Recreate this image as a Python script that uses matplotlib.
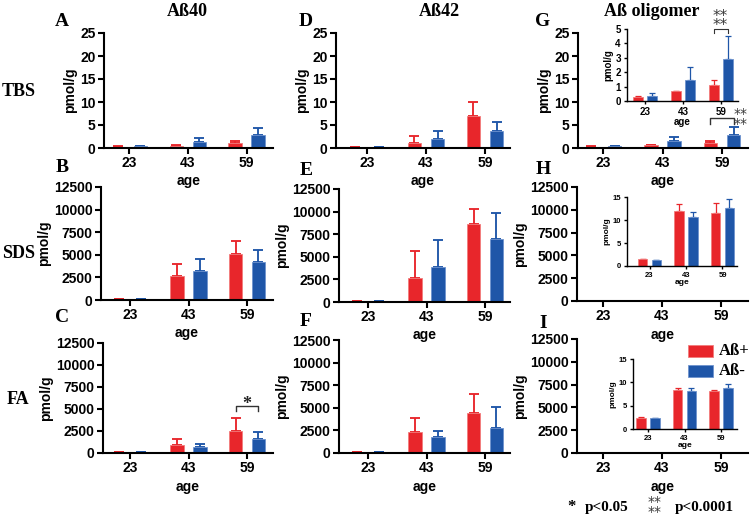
import matplotlib
matplotlib.use("Agg")
import matplotlib.pyplot as plt
import numpy as np

W, H = 750, 517
ages = ["23", "43", "59"]

# Row 1: TBS (pmol/g)
a40_tbs_pos = [0.3, 0.5, 1.0];   a40_tbs_pos_err = [0.05, 0.05, 0.5]
a40_tbs_neg = [0.35, 1.4, 2.8];  a40_tbs_neg_err = [0.1, 0.8, 1.6]
a42_tbs_pos = [0.25, 1.1, 7.0];  a42_tbs_pos_err = [0.05, 1.6, 2.9]
a42_tbs_neg = [0.25, 1.85, 3.8]; a42_tbs_neg_err = [0.05, 1.95, 1.9]
olig_tbs_pos = [0.3, 0.67, 1.09]; olig_tbs_pos_err = [0.05, 0.02, 0.38]
olig_tbs_neg = [0.35, 1.49, 2.9]; olig_tbs_neg_err = [0.18, 0.84, 1.59]
# Row 2: SDS
a40_sds_pos = [100, 2600, 5100];  a40_sds_pos_err = [0, 1400, 1420]
a40_sds_neg = [150, 3250, 4250];  a40_sds_neg_err = [0, 1300, 1300]
a42_sds_pos = [150, 2690, 8600];  a42_sds_pos_err = [0, 2980, 1650]
a42_sds_neg = [150, 3840, 7000];  a42_sds_neg_err = [0, 3020, 2800]
olig_sds_pos = [1.44, 11.97, 11.6]; olig_sds_pos_err = [0.05, 1.4, 2.1]
olig_sds_neg = [1.35, 10.7, 12.7];  olig_sds_neg_err = [0.05, 1.0, 1.95]
# Row 3: FA
a40_fa_pos = [80, 910, 2550];   a40_fa_pos_err = [0, 680, 1460]
a40_fa_neg = [80, 650, 1620];   a40_fa_neg_err = [0, 340, 780]
a42_fa_pos = [150, 2290, 4390]; a42_fa_pos_err = [0, 1550, 2100]
a42_fa_neg = [150, 1740, 2800]; a42_fa_neg_err = [0, 730, 2250]
olig_fa_pos = [2.46, 8.26, 8.04]; olig_fa_pos_err = [0.05, 0.58, 0.36]
olig_fa_neg = [2.3, 8.2, 8.77];   olig_fa_neg_err = [0.05, 0.57, 0.93]

RED = "#E8262B"
BLUE = "#1F56A8"
RED_E = "#F27C7C"
BLUE_E = "#6E93CE"
STAR = "#3a3a3a"

SANS = "Liberation Sans"
SERIF = "Liberation Serif"

fig = plt.figure(figsize=(W / 100, H / 100), dpi=100)


def add_ax(l, r, t, b, x0, s):
    ax = fig.add_axes([l / W, 1 - b / H, (r - l) / W, (b - t) / H])
    ax.set_xlim((l - x0) / s, (r - x0) / s)
    return ax


def draw(ax, pos, pos_err, neg, neg_err, ymax, step, small=False, lw=1.5,
         tfs=10, lfs=10, xlabel=True, width=0.23, off=0.195, cap=3.5):
    x = np.arange(len(ages))
    for vals, errs, c, ec, o in [(pos, pos_err, RED, RED_E, -off),
                                 (neg, neg_err, BLUE, BLUE_E, off)]:
        ax.bar(x + o, vals, width=width, color=c, edgecolor=ec, linewidth=0.6, zorder=2)
        ax.errorbar(x + o, vals, yerr=[np.zeros(len(vals)), errs], fmt="none",
                    ecolor=c, elinewidth=lw * 0.9, capsize=cap, capthick=lw * 0.9, zorder=1)
    ax.set_ylim(0, ymax)
    ax.set_yticks(np.arange(0, ymax + step / 2, step))
    ax.set_xticks(x)
    ax.set_xticklabels(ages)
    for sp in ["top", "right"]:
        ax.spines[sp].set_visible(False)
    for sp in ["left", "bottom"]:
        ax.spines[sp].set_linewidth(lw)
    ax.tick_params(width=lw, length=4 if not small else 2.5, labelsize=tfs, pad=2)
    for lab in ax.get_xticklabels() + ax.get_yticklabels():
        lab.set_fontfamily(SANS)
        lab.set_fontweight("bold")
    ax.set_ylabel("pmol/g", fontfamily=SANS, fontweight="bold", fontsize=lfs, labelpad=2)
    if xlabel:
        ax.set_xlabel("age", fontfamily=SANS, fontweight="bold", fontsize=lfs, labelpad=3)
    ax.patch.set_alpha(0)


# Row 1
axA = add_ax(104, 273, 33, 148, 129, 58.8)
draw(axA, a40_tbs_pos, a40_tbs_pos_err, a40_tbs_neg, a40_tbs_neg_err, 25, 5)
axD = add_ax(336, 510, 33, 148, 367, 59)
draw(axD, a42_tbs_pos, a42_tbs_pos_err, a42_tbs_neg, a42_tbs_neg_err, 25, 5)
axG = add_ax(578, 748, 33, 148, 603, 59.5)
draw(axG, olig_tbs_pos, olig_tbs_pos_err, olig_tbs_neg, olig_tbs_neg_err, 25, 5)
# Row 2
axB = add_ax(101, 273, 187, 300, 130, 58.5)
draw(axB, a40_sds_pos, a40_sds_pos_err, a40_sds_neg, a40_sds_neg_err, 12500, 2500)
axE = add_ax(339, 510, 189, 302, 368, 58.5)
draw(axE, a42_sds_pos, a42_sds_pos_err, a42_sds_neg, a42_sds_neg_err, 12500, 2500)
axH = add_ax(577, 748, 187, 301, 603, 59)
draw(axH, olig_sds_pos, olig_sds_pos_err, olig_sds_neg, olig_sds_neg_err, 12500, 2500)
# Row 3
axC = add_ax(103, 273, 343, 453, 130, 58.5)
draw(axC, a40_fa_pos, a40_fa_pos_err, a40_fa_neg, a40_fa_neg_err, 12500, 2500)
axF = add_ax(339, 510, 340, 453, 368, 58.5)
draw(axF, a42_fa_pos, a42_fa_pos_err, a42_fa_neg, a42_fa_neg_err, 12500, 2500)
axI = add_ax(577, 748, 339, 453, 603, 59)
draw(axI, olig_fa_pos, olig_fa_pos_err, olig_fa_neg, olig_fa_neg_err, 12500, 2500)

# Insets
inG = add_ax(627, 738, 29, 101, 645, 38)
draw(inG, olig_tbs_pos, olig_tbs_pos_err, olig_tbs_neg, olig_tbs_neg_err, 5, 1,
     small=True, lw=1.0, tfs=7, lfs=7, width=0.26, off=0.19, cap=2.5)
inH = add_ax(627, 737, 197, 266, 649.5, 36.5)
draw(inH, olig_sds_pos, olig_sds_pos_err, olig_sds_neg, olig_sds_neg_err, 15, 5,
     small=True, lw=1.0, tfs=5.5, lfs=6, width=0.26, off=0.19, cap=2.5)
inI = add_ax(633, 737, 359, 429, 648, 36.5)
draw(inI, olig_fa_pos, olig_fa_pos_err, olig_fa_neg, olig_fa_neg_err, 15, 5,
     small=True, lw=1.0, tfs=5.5, lfs=6, width=0.26, off=0.19, cap=2.5)
for a in (inG, inH, inI):
    a.xaxis.labelpad = 0
    a.yaxis.labelpad = 1


def ftext(x, y, s, size, family=SERIF, ha="center", va="center", **kw):
    kw.setdefault("fontweight", "bold")
    fig.text(x / W, 1 - y / H, s, fontsize=size, fontfamily=family,
             ha=ha, va=va, **kw)


# Column titles
ftext(187, 12, "Aß40", 13)
ftext(439, 12, "Aß42", 13)
ftext(652, 11, "Aß oligomer", 13)
# Panel letters
for s, x, y in [("A", 62, 21), ("D", 306, 21), ("G", 543, 21),
                ("B", 62, 168), ("E", 306, 171), ("H", 543, 170),
                ("C", 62, 318), ("F", 306, 322), ("I", 543, 324)]:
    ftext(x, y, s, 14)
# Row labels
ftext(19, 92, "TBS", 13)
ftext(19, 254, "SDS", 13)
ftext(18, 400, "FA", 13)


# Significance brackets
def bracket(ax, x1, x2, y, h, lw=1.0):
    ax.plot([x1, x1, x2, x2], [y - h, y, y, y - h], color="#333333", lw=lw,
            clip_on=False, zorder=5)


def stars2(xc, yc, size=11):
    # two rows of "**" as one text
    ftext(xc, yc, "**\n**", size, family="DejaVu Sans", fontweight="normal",
          color=STAR, linespacing=0.55)


off = 0.195
bracket(axC, 2 - off, 2 + off, 5350, 550)
ftext(247, 409, "*", 13, va="baseline", color="#222222")
bracket(axG, 2 - off, 2 + off, 6.5, 1.2)
stars2(741, 119, size=10)
bracket(inG, 2 - 0.19, 2 + 0.19, 5.0, 0.3, lw=0.8)
stars2(720, 21, size=11)

# Legend in panel I
for (y, c, ec, lab) in [(351, RED, RED_E, "Aß+"), (371, BLUE, BLUE_E, "Aß-")]:
    fig.patches.append(plt.Rectangle((688 / W, 1 - (y + 6) / H), 25 / W, 12 / H,
                                     transform=fig.transFigure, facecolor=c,
                                     edgecolor=ec, linewidth=0.6))
    ftext(719, y, lab, 12, ha="left")

# Bottom p-value legend
ftext(572, 507, "*", 12)
ftext(585, 507, "p<0.05", 11, ha="left")
stars2(655, 507, size=10)
ftext(675, 507, "p<0.0001", 11, ha="left")

fig.savefig("out.png", dpi=100)
